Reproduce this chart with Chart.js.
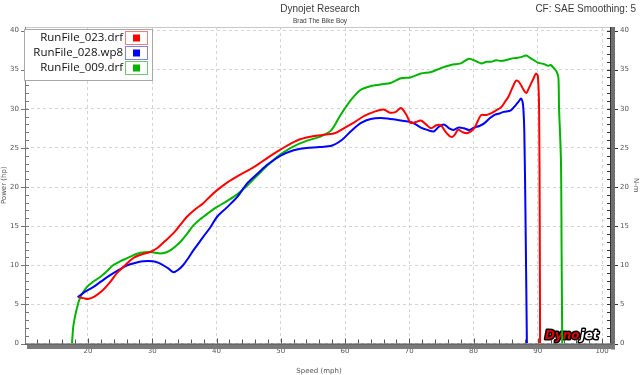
<!DOCTYPE html>
<html>
<head>
<meta charset="utf-8">
<script src="https://cdn.jsdelivr.net/npm/chart.js@4"></script>
<style>
  html, body { margin: 0; padding: 0; background: #fff; }
  canvas { display: block; }
</style>
</head>
<body>
<canvas id="dynoChart" width="640" height="375"></canvas>
<script>
// run names and colours
const runLabels = ['RunFile_023.drf', 'RunFile_028.wp8', 'RunFile_009.drf'];
const runColors = ['#ff0000', '#0000ff', '#00b400'];
const swatchBorders = ['#f08080', '#8080f0', '#70c870'];

// speed (mph) / power (hp)
const speed023 = [18.6, 19.3, 20.0, 21.0, 22.3, 23.5, 24.5, 25.8, 27.0, 28.4, 29.7, 30.8, 32.0, 33.3, 34.4, 35.4, 36.6, 37.9, 39.0, 40.1, 41.7, 43.5, 45.3, 47.0, 49.0, 51.0, 53.0, 55.0, 57.0, 58.5, 60.0, 61.5, 63.0, 64.5, 66.0, 67.0, 67.9, 68.7, 69.5, 70.2, 71.0, 71.8, 72.6, 73.4, 74.2, 74.9, 75.7, 76.5, 77.0, 77.6, 78.3, 79.1, 80.1, 80.7, 81.2, 82.0, 82.7, 83.5, 84.3, 84.9, 85.4, 86.0, 86.6, 87.0, 87.4, 87.8, 88.2, 88.6, 89.0, 89.4, 89.7, 90.0, 90.2, 90.3, 90.35];
const power023 = [5.9, 5.8, 5.7, 6.0, 6.8, 7.9, 9.0, 10.0, 10.9, 11.4, 11.7, 12.2, 13.1, 14.1, 15.2, 16.2, 17.1, 17.9, 18.8, 19.6, 20.6, 21.5, 22.3, 23.2, 24.3, 25.3, 26.1, 26.5, 26.7, 26.9, 27.6, 28.3, 29.1, 29.6, 29.9, 29.5, 29.6, 30.1, 29.3, 28.2, 28.3, 28.5, 28.0, 27.5, 27.9, 27.9, 27.0, 26.4, 26.6, 27.3, 27.0, 26.9, 27.5, 28.5, 29.2, 29.2, 29.4, 29.8, 30.2, 30.9, 31.5, 32.6, 33.6, 33.5, 33.0, 32.4, 32.0, 32.6, 33.3, 34.0, 34.5, 34.2, 30.0, 15.0, 0];

const speed028 = [18.4, 19.5, 20.8, 22.0, 23.4, 24.8, 26.1, 27.3, 28.6, 30.1, 31.0, 31.7, 32.5, 33.3, 34.0, 34.8, 35.6, 36.4, 37.2, 37.9, 39.0, 40.1, 41.5, 43.2, 44.8, 46.5, 48.0, 50.0, 52.0, 54.0, 56.0, 58.0, 59.5, 61.0, 62.5, 64.0, 66.0, 68.0, 68.7, 70.2, 71.0, 71.8, 72.8, 73.8, 74.6, 75.4, 76.2, 76.9, 77.7, 78.5, 79.3, 80.1, 80.9, 81.6, 82.4, 83.2, 84.0, 84.7, 85.8, 86.6, 87.0, 87.4, 87.7, 87.9, 88.1, 88.3];
const power028 = [5.9, 6.6, 7.2, 7.9, 8.7, 9.4, 10.0, 10.3, 10.5, 10.5, 10.3, 10.0, 9.6, 9.1, 9.4, 10.0, 10.9, 11.9, 12.8, 13.6, 14.8, 16.2, 17.3, 18.7, 20.5, 21.8, 22.9, 24.0, 24.7, 25.0, 25.1, 25.3, 26.0, 27.2, 28.2, 28.7, 28.8, 28.6, 28.5, 28.3, 28.0, 27.6, 27.3, 27.1, 27.7, 28.0, 27.5, 27.3, 27.6, 27.5, 27.3, 27.6, 27.8, 28.1, 28.7, 29.2, 29.4, 29.6, 29.8, 30.5, 30.9, 31.3, 30.5, 27.0, 15.0, 0];

const speed009 = [17.5, 17.6, 17.7, 18.0, 18.3, 18.8, 19.8, 20.8, 21.9, 22.9, 23.9, 25.0, 26.1, 27.1, 28.1, 29.7, 30.5, 31.2, 32.0, 32.8, 33.6, 34.4, 35.4, 36.4, 37.5, 38.6, 39.6, 40.6, 41.6, 42.6, 43.7, 44.8, 46.5, 48.0, 50.0, 52.0, 54.0, 56.0, 57.8, 59.3, 60.9, 62.4, 64.0, 65.5, 67.1, 68.7, 70.2, 71.8, 73.4, 74.9, 76.5, 78.0, 79.3, 80.3, 81.2, 82.0, 82.7, 83.5, 84.3, 85.0, 85.8, 86.6, 87.4, 88.2, 88.8, 89.4, 90.0, 90.5, 91.0, 91.6, 92.0, 92.5, 92.9, 93.2, 93.3, 93.6, 93.7, 93.8];
const power009 = [0, 1.0, 2.1, 3.5, 4.6, 5.9, 7.2, 7.9, 8.5, 9.2, 10.0, 10.5, 10.9, 11.3, 11.6, 11.7, 11.6, 11.5, 11.6, 11.9, 12.4, 13.0, 14.0, 15.1, 15.9, 16.6, 17.2, 17.7, 18.2, 18.7, 19.4, 20.2, 21.6, 22.8, 24.2, 25.2, 25.9, 26.4, 27.2, 29.2, 31.1, 32.4, 32.9, 33.1, 33.3, 33.9, 34.0, 34.5, 34.7, 35.2, 35.6, 35.8, 36.4, 36.1, 35.8, 36.0, 36.0, 36.2, 36.1, 36.2, 36.4, 36.5, 36.6, 36.8, 36.5, 36.2, 35.9, 35.8, 35.7, 35.5, 35.6, 35.2, 34.8, 34.0, 30.2, 23.4, 12.0, 0];

// axis ticks
const speedTicks = [20, 30, 40, 50, 60, 70, 80, 90, 100];
const powerTicks = [0, 5, 10, 15, 20, 25, 30, 35, 40];

const runSpeeds = [speed023, speed028, speed009];
const runPowers = [power023, power028, power009];

function toPoints(xs, ys){
  return xs.map((x, i) => ({x: x, y: ys[i]}));
}

const FONT = '"DejaVu Sans", sans-serif';
const SANS = '"Liberation Sans", Arial, sans-serif';

const dynoFrame = {
  id: 'dynoFrame',
  beforeDatasetsDraw(chart){
    const ctx = chart.ctx;
    // Dynojet logo, under the curves
    ctx.save();
    ctx.font = 'italic bold 12px ' + FONT;
    ctx.textBaseline = 'alphabetic';
    ctx.lineJoin = 'round';
    ctx.lineWidth = 3;
    ctx.strokeStyle = '#000';
    ctx.strokeText('Dyno', 545, 339);
    ctx.fillStyle = '#e00000';
    ctx.fillText('Dyno', 545, 339);
    const w = ctx.measureText('Dyno').width;
    ctx.strokeText('jet', 545 + w + 1, 339);
    ctx.fillStyle = '#ffffff';
    ctx.fillText('jet', 545 + w + 1, 339);
    ctx.restore();
  },
  afterDraw(chart){
    const ctx = chart.ctx;
    const a = chart.chartArea;
    const xs = chart.scales.x, ys = chart.scales.y;
    ctx.save();

    // top frame line
    ctx.strokeStyle = '#c8c8c8';
    ctx.lineWidth = 1;
    ctx.beginPath();
    ctx.moveTo(a.left, a.top + 0.5);
    ctx.lineTo(a.right, a.top + 0.5);
    ctx.stroke();

    // left axis line and ticks
    ctx.strokeStyle = '#777';
    ctx.beginPath();
    ctx.moveTo(a.left + 0.5, a.top);
    ctx.lineTo(a.left + 0.5, a.bottom);
    for (let v = 0; v <= 40; v++) {
      const y = Math.round(ys.getPixelForValue(v)) + 0.5;
      ctx.moveTo(a.left, y);
      ctx.lineTo(a.left + 4, y);
      if (v % 5 === 0) {
        ctx.moveTo(a.left - 4, y);
        ctx.lineTo(a.left, y);
      }
    }
    ctx.stroke();

    // right axis bar and ticks
    ctx.fillStyle = '#6f6f6f';
    ctx.fillRect(a.right - 2, a.top, 4, a.bottom - a.top + 6);
    ctx.strokeStyle = '#333';
    ctx.beginPath();
    ctx.moveTo(a.right - 2.5, a.top);
    ctx.lineTo(a.right - 2.5, a.bottom);
    for (let v = 0; v <= 40; v++) {
      const y = Math.round(ys.getPixelForValue(v)) + 0.5;
      ctx.moveTo(a.right - 6, y);
      ctx.lineTo(a.right - 2, y);
      if (v % 5 === 0) {
        ctx.moveTo(a.right + 2, y);
        ctx.lineTo(a.right + 5, y);
      }
    }
    ctx.stroke();

    // bottom bar and minor ticks
    ctx.fillStyle = '#7a7a7a';
    ctx.fillRect(a.left + 2, a.bottom + 0.5, a.right - a.left, 5);
    ctx.strokeStyle = '#555';
    ctx.beginPath();
    ctx.moveTo(a.left, a.bottom + 0.5);
    ctx.lineTo(a.right, a.bottom + 0.5);
    for (let v = 12; v <= 100; v += 2) {
      const x = Math.round(xs.getPixelForValue(v)) + 0.5;
      const len = v % 10 === 0 ? 5 : 4;
      ctx.moveTo(x, a.bottom);
      ctx.lineTo(x, a.bottom - len);
    }
    ctx.stroke();

    // titles
    ctx.fillStyle = '#3a3a3a';
    ctx.textBaseline = 'middle';
    ctx.textAlign = 'center';
    ctx.font = '10px ' + SANS;
    ctx.fillText('Dynojet Research', 320, 9);
    ctx.font = '6.5px ' + SANS;
    ctx.fillText('Brad The Bike Boy', 320, 21);
    ctx.textAlign = 'right';
    ctx.font = '10px ' + SANS;
    ctx.fillText('CF: SAE Smoothing: 5', 636, 9);

    // legend box
    const lx = 24.5, ly = 29.5, lw = 128, lh = 51;
    ctx.fillStyle = '#fff';
    ctx.fillRect(lx, ly, lw, lh);
    ctx.strokeStyle = '#a8a8a8';
    ctx.lineWidth = 1;
    ctx.strokeRect(lx, ly, lw, lh);
    ctx.font = '11.5px "Open Sans", sans-serif';
    ctx.textAlign = 'right';
    ctx.textBaseline = 'middle';
    chart.data.datasets.forEach((ds, i) => {
      const cy = 38 + i * 15;
      ctx.fillStyle = '#111';
      ctx.fillText(ds.label, 123, cy);
      ctx.strokeStyle = swatchBorders[i];
      ctx.strokeRect(125.5, cy - 6.5, 22, 13);
      ctx.fillStyle = ds.borderColor;
      ctx.fillRect(133, cy - 3.5, 7, 7);
    });

    ctx.restore();
  }
};

const ctx = document.getElementById('dynoChart').getContext('2d');
const dynoChart = new Chart(ctx, {
  type: 'line',
  data: {
    datasets: runLabels.map((label, i) => ({
      label: label,
      data: toPoints(runSpeeds[i], runPowers[i]),
      borderColor: runColors[i],
      backgroundColor: runColors[i],
      borderWidth: 2,
      pointRadius: 0,
      tension: 0.3,
      fill: false,
      yAxisID: 'y'
    }))
  },
  options: {
    responsive: false,
    animation: false,
    devicePixelRatio: 1,
    layout: { padding: { top: 27, left: 0, right: 0, bottom: 0 } },
    plugins: {
      legend: { display: false },
      tooltip: { enabled: false }
    },
    scales: {
      x: {
        type: 'linear',
        min: 10.2,
        max: 101.7,
        afterBuildTicks: s => { s.ticks = speedTicks.map(v => ({value: v})); },
        afterFit: s => { s.height = 31.5; },
        border: { display: false, dash: [3, 3] },
        grid: { color: '#d4d4d4', drawTicks: false },
        ticks: { font: { family: FONT, size: 7 }, color: '#555', padding: 3, maxRotation: 0 },
        title: { display: true, text: 'Speed (mph)', font: { family: FONT, size: 7 }, color: '#555', padding: { top: 1, bottom: 0 } }
      },
      y: {
        type: 'linear',
        position: 'left',
        min: 0,
        max: 40.45,
        afterBuildTicks: s => { s.ticks = powerTicks.map(v => ({value: v})); },
        afterFit: s => { s.width = 25; },
        border: { display: false, dash: [3, 3] },
        grid: { color: '#d4d4d4', drawTicks: false },
        ticks: { font: { family: FONT, size: 7 }, color: '#555', padding: 6 },
        title: { display: true, text: 'Power (hp)', font: { family: FONT, size: 7 }, color: '#555', padding: { top: 0, bottom: 2 } }
      },
      y2: {
        type: 'linear',
        position: 'right',
        min: 0,
        max: 40.45,
        afterBuildTicks: s => { s.ticks = powerTicks.map(v => ({value: v})); },
        afterFit: s => { s.width = 27; },
        border: { display: false },
        grid: { display: false, drawTicks: false },
        ticks: { font: { family: FONT, size: 7 }, color: '#555', padding: 7 },
        title: { display: true, text: 'N-m', font: { family: FONT, size: 7 }, color: '#555', padding: 0 }
      }
    }
  },
  plugins: [dynoFrame]
});
</script>
</body>
</html>
